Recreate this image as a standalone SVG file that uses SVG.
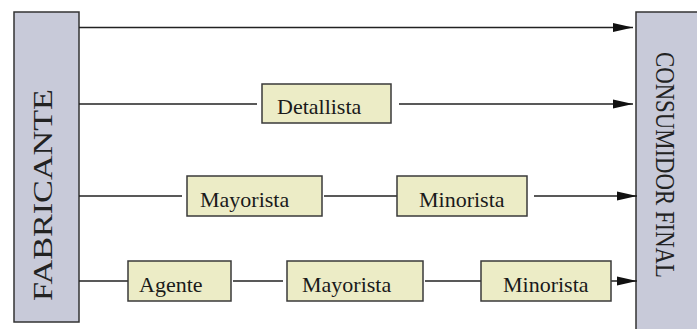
<svg xmlns="http://www.w3.org/2000/svg" width="697" height="329" viewBox="0 0 697 329">
<style>
.side{fill:#c8cad9;stroke:#333;stroke-width:1.5}
.box{fill:#ececc6;stroke:#3a3a3a;stroke-width:1.5}
.lbl{font-size:22px;fill:#1a1a1a}
.big{font-size:28px;fill:#222}
.ln{stroke:#222;stroke-width:1.5;fill:none}
</style>
<defs>
<marker id="ah" markerUnits="userSpaceOnUse" markerWidth="20" markerHeight="10" refX="20" refY="5" orient="auto">
<path d="M0,0.5 L20,5 L0,9.5 z" fill="#111"/>
</marker>
</defs>
<rect width="697" height="329" fill="#fff"/>
<g font-family="Liberation Serif, Times New Roman, serif">
<g id="fabricante">
<rect class="side" x="14" y="12" width="65" height="310"/>
<text class="big" transform="translate(52,301) rotate(-90)" textLength="212" lengthAdjust="spacingAndGlyphs">FABRICANTE</text>
</g>
<g id="consumidor">
<rect class="side" x="636" y="12" width="70" height="330"/>
<text class="big" transform="translate(656,52) rotate(90)" textLength="226" lengthAdjust="spacingAndGlyphs">CONSUMIDOR FINAL</text>
</g>
<g id="connectors">
<line class="ln" x1="79" y1="27.5" x2="633" y2="27.5" marker-end="url(#ah)"/>
<line class="ln" x1="79" y1="104" x2="257" y2="104"/>
<line class="ln" x1="399" y1="104" x2="633" y2="104" marker-end="url(#ah)"/>
<line class="ln" x1="79" y1="196" x2="182" y2="196"/>
<line class="ln" x1="324" y1="196" x2="401" y2="196"/>
<line class="ln" x1="534" y1="196" x2="637" y2="196" marker-end="url(#ah)"/>
<line class="ln" x1="79" y1="281" x2="132" y2="281"/>
<line class="ln" x1="233" y1="281" x2="283" y2="281"/>
<line class="ln" x1="425" y1="281" x2="485" y2="281"/>
<line class="ln" x1="611" y1="281" x2="637" y2="281" marker-end="url(#ah)"/>
</g>
<g id="detallista">
<rect class="box" x="262" y="84" width="129" height="39"/>
<text class="lbl" x="277" y="114">Detallista</text>
</g>
<g id="mayorista1">
<rect class="box" x="187" y="176" width="135" height="40"/>
<text class="lbl" x="200" y="207">Mayorista</text>
</g>
<g id="minorista1">
<rect class="box" x="397" y="176" width="130" height="40"/>
<text class="lbl" x="419" y="207">Minorista</text>
</g>
<g id="agente">
<rect class="box" x="128" y="261" width="103" height="40"/>
<text class="lbl" x="139" y="292">Agente</text>
</g>
<g id="mayorista2">
<rect class="box" x="287" y="261" width="136" height="40"/>
<text class="lbl" x="302" y="292">Mayorista</text>
</g>
<g id="minorista2">
<rect class="box" x="481" y="261" width="130" height="40"/>
<text class="lbl" x="503" y="292">Minorista</text>
</g>
</g>
</svg>
